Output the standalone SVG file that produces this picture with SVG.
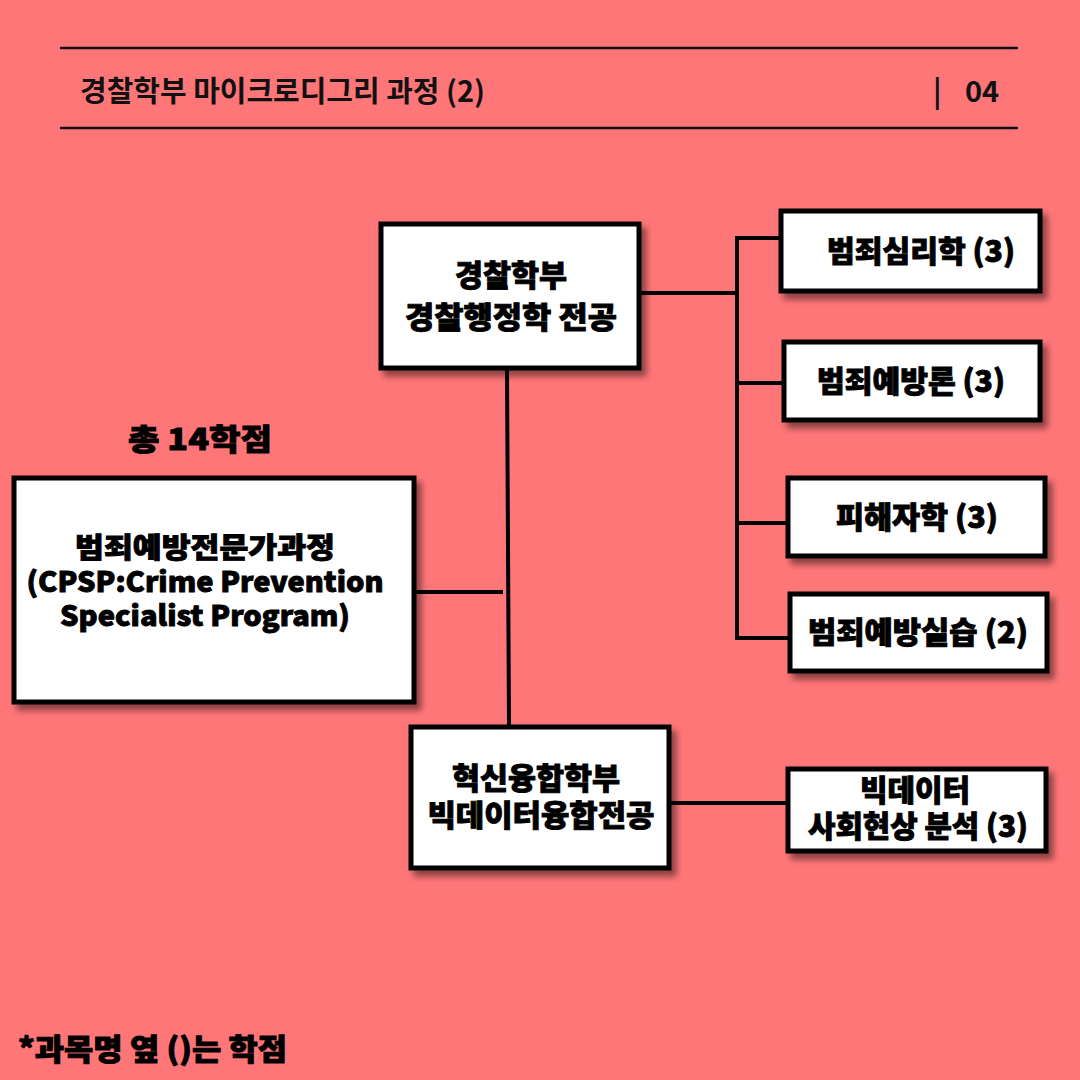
<svg xmlns="http://www.w3.org/2000/svg" width="1080" height="1080" viewBox="0 0 1080 1080">
<style>
.bg{fill:#FF7678}
.box{fill:#fff;stroke:#000;stroke-width:5}
.t{font-family:"Noto Sans CJK KR","Noto Sans",sans-serif;font-weight:900;font-size:30px;fill:#000;stroke:#000;stroke-width:0.9;text-anchor:middle}
.h{font-family:"Noto Sans CJK KR","Noto Sans",sans-serif;font-weight:700;font-size:29px;fill:#111}
.ln{stroke:#000;stroke-width:4;fill:none}
.hl{stroke:#111;stroke-width:2.5}
</style>
<defs>
<filter id="sh" x="-10%" y="-10%" width="130%" height="140%">
<feDropShadow dx="5" dy="6" stdDeviation="3" flood-color="#000" flood-opacity="0.45"/>
</filter>
</defs>
<rect class="bg" x="0" y="0" width="1080" height="1080"/>
<g id="header">
<line class="hl" x1="60" y1="48" x2="1018" y2="48"/>
<line class="hl" x1="60" y1="128" x2="1018" y2="128"/>
<text class="h" x="80" y="102" textLength="405" lengthAdjust="spacingAndGlyphs">경찰학부 마이크로디그리 과정 (2)</text>
<text class="h" x="933" y="102">|</text>
<text class="h" x="965" y="102">04</text>
</g>
<g id="connectors">
<line class="ln" x1="641" y1="293" x2="737" y2="293"/>
<line class="ln" x1="737" y1="236" x2="737" y2="640"/>
<line class="ln" x1="735" y1="238" x2="781" y2="238"/>
<line class="ln" x1="735" y1="383" x2="784" y2="383"/>
<line class="ln" x1="735" y1="523" x2="788" y2="523"/>
<line class="ln" x1="735" y1="638" x2="790" y2="638"/>
<line class="ln" x1="507" y1="370" x2="509" y2="725"/>
<line class="ln" x1="416" y1="592" x2="503" y2="592"/>
<line class="ln" x1="671" y1="803" x2="788" y2="803"/>
</g>
<g id="total"><text class="t" x="200" y="450" textLength="144" lengthAdjust="spacingAndGlyphs">총 14학점</text></g>
<g id="n-police">
<rect class="box" x="381" y="224" width="258" height="144" filter="url(#sh)"/>
<text class="t" x="511" y="286" textLength="112" lengthAdjust="spacingAndGlyphs">경찰학부</text>
<text class="t" x="511" y="328" textLength="212" lengthAdjust="spacingAndGlyphs">경찰행정학 전공</text>
</g>
<g id="n-cpsp">
<rect class="box" x="14" y="478" width="400" height="224" filter="url(#sh)"/>
<text class="t" x="205" y="558" style="font-size:28px" textLength="260" lengthAdjust="spacingAndGlyphs">범죄예방전문가과정</text>
<text class="t" x="205" y="592" style="font-size:28px" textLength="357" lengthAdjust="spacingAndGlyphs">(CPSP:Crime Prevention</text>
<text class="t" x="205" y="626" style="font-size:28px" textLength="290" lengthAdjust="spacingAndGlyphs">Specialist Program)</text>
</g>
<g id="n-bigdata-major">
<rect class="box" x="411" y="727" width="258" height="141" filter="url(#sh)"/>
<text class="t" x="536" y="789" textLength="168" lengthAdjust="spacingAndGlyphs">혁신융합학부</text>
<text class="t" x="541" y="826" textLength="227" lengthAdjust="spacingAndGlyphs">빅데이터융합전공</text>
</g>
<g id="n-psych">
<rect class="box" x="781" y="211" width="259" height="80" filter="url(#sh)"/>
<text class="t" x="921" y="262" textLength="188" lengthAdjust="spacingAndGlyphs">범죄심리학 (3)</text>
</g>
<g id="n-prevention">
<rect class="box" x="784" y="342" width="256" height="78" filter="url(#sh)"/>
<text class="t" x="911" y="392" textLength="188" lengthAdjust="spacingAndGlyphs">범죄예방론 (3)</text>
</g>
<g id="n-victim">
<rect class="box" x="788" y="478" width="257" height="78" filter="url(#sh)"/>
<text class="t" x="917" y="528" textLength="162" lengthAdjust="spacingAndGlyphs">피해자학 (3)</text>
</g>
<g id="n-practice">
<rect class="box" x="790" y="594" width="257" height="77" filter="url(#sh)"/>
<text class="t" x="918" y="643" textLength="220" lengthAdjust="spacingAndGlyphs">범죄예방실습 (2)</text>
</g>
<g id="n-bigdata">
<rect class="box" x="788" y="769" width="258" height="82" filter="url(#sh)"/>
<text class="t" x="915" y="801" textLength="110" lengthAdjust="spacingAndGlyphs">빅데이터</text>
<text class="t" x="918" y="837" textLength="220" lengthAdjust="spacingAndGlyphs">사회현상 분석 (3)</text>
</g>
<g id="footnote"><text class="t" x="18" y="1060" style="text-anchor:start" textLength="269" lengthAdjust="spacingAndGlyphs">*과목명 옆 ()는 학점</text></g>
</svg>
